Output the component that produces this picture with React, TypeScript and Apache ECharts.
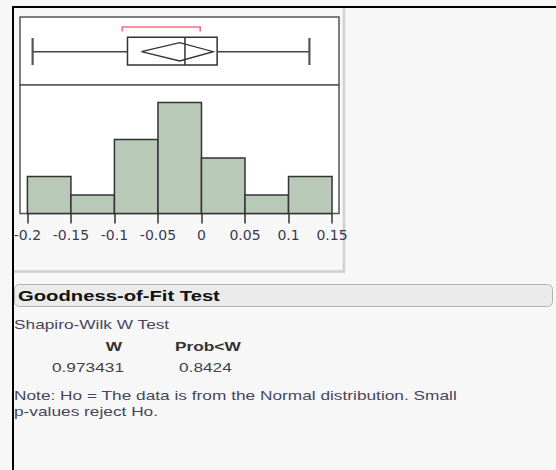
import React, { useEffect, useRef } from "react";
import * as echarts from "echarts";

// ---- data ----
const binEdges = [-0.2, -0.15, -0.1, -0.05, 0, 0.05, 0.1, 0.15];
const binCounts = [2, 1, 4, 6, 3, 1, 2];
const tickValues = [-0.2, -0.15, -0.1, -0.05, 0, 0.05, 0.1, 0.15];
const tickLabels = ["-0.2", "-0.15", "-0.1", "-0.05", "0", "0.05", "0.1", "0.15"];
// whisker low, q1, median, q3, whisker high
const boxValues = [-0.194, -0.085, -0.019, 0.018, 0.124];
// mean diamond: lower CI, mean, upper CI
const meanDiamond = [-0.069, -0.025, 0.0135];
// shortest half bracket
const shortestHalf = [-0.091, -0.0015];

const headerTitle = "Goodness-of-Fit Test";
const testName = "Shapiro-Wilk W Test";
const columnHeads = ["W", "Prob<W"];
const columnValues = ["0.973431", "0.8424"];
const noteLines = [
  "Note: Ho = The data is from the Normal distribution. Small",
  "p-values reject Ho.",
];

const FONT = "'Liberation Sans', Arial, sans-serif";
const SX = 1.33;

export default function App() {
  const ref = useRef<HTMLDivElement>(null);

  useEffect(() => {
    if (!ref.current) return;
    const chart = echarts.init(ref.current, undefined, { renderer: "svg" });

    const histData = binCounts.map((c, i) => [binEdges[i], binEdges[i + 1], c]);
    const boxData = [[...boxValues, ...meanDiamond, ...shortestHalf]];

    const xMin = -0.2085;
    const xMax = 0.158;

    const txt = (
      text: string, x: number, y: number, font: string, fill: string,
      align: string = "left", sx: number = SX
    ) => ({
      type: "text", x, y, scaleX: sx, scaleY: 1,
      style: { text, font, fill, align, verticalAlign: "middle" },
    });

    const option: any = {
      animation: false,
      backgroundColor: "#f7f7f7",
      grid: [
        {
          left: 20, top: 17, width: 319, height: 68,
          show: true, backgroundColor: "#fff", borderColor: "#555", borderWidth: 1.5,
        },
        {
          left: 20, top: 85, width: 319, height: 128.5,
          show: true, backgroundColor: "#fff", borderColor: "#555", borderWidth: 1.5,
        },
      ],
      xAxis: [
        {
          type: "value", gridIndex: 0, min: xMin, max: xMax, show: false,
        },
        {
          type: "value", gridIndex: 1, min: xMin, max: xMax,
          axisLine: { show: false },
          splitLine: { show: false },
          axisTick: {
            show: true, customValues: tickValues, length: 10, inside: false,
            lineStyle: { color: "#333", width: 1.5 },
          },
          axisLabel: {
            customValues: tickValues,
            formatter: (v: number) => {
              const i = tickValues.findIndex((t) => Math.abs(t - v) < 1e-9);
              return i >= 0 ? tickLabels[i] : "";
            },
            fontSize: 14, fontFamily: "'DejaVu Sans', sans-serif", color: "#3a3a4e", margin: 14,
            hideOverlap: false,
          },
        },
      ],
      yAxis: [
        { type: "value", gridIndex: 0, min: 0, max: 68, inverse: true, show: false },
        { type: "value", gridIndex: 1, min: 0, max: 6.95, show: false },
      ],
      series: [
        {
          type: "custom",
          xAxisIndex: 1, yAxisIndex: 1,
          data: histData,
          encode: { x: [0, 1], y: 2 },
          renderItem: (params: any, api: any) => {
            const p0 = api.coord([api.value(0), api.value(2)]);
            const p1 = api.coord([api.value(1), 0]);
            return {
              type: "rect",
              shape: { x: p0[0], y: p0[1], width: p1[0] - p0[0], height: p1[1] - p0[1] },
              style: { fill: "#b8c9b7", stroke: "#333", lineWidth: 1.5 },
            };
          },
        },
        {
          type: "custom",
          xAxisIndex: 0, yAxisIndex: 0,
          data: boxData,
          encode: { x: [0, 4] },
          renderItem: (params: any, api: any) => {
            const v = (i: number) => api.value(i);
            const c = (x: number, y: number) => api.coord([x, y]);
            const wl = v(0), q1 = v(1), med = v(2), q3 = v(3), wh = v(4);
            const ciL = v(5), mean = v(6), ciH = v(7);
            const shL = v(8), shH = v(9);
            const mid = 34.7;
            const line = (a: number[], b: number[], stroke: string, lw: number) => ({
              type: "line",
              shape: { x1: a[0], y1: a[1], x2: b[0], y2: b[1] },
              style: { stroke, lineWidth: lw },
            });
            const bTL = c(q1, 20.3);
            const bBR = c(q3, 48);
            return {
              type: "group",
              children: [
                line(c(wl, mid), c(q1, mid), "#444", 1.5),
                line(c(q3, mid), c(wh, mid), "#444", 1.5),
                line(c(wl, 21), c(wl, 48), "#555", 2.2),
                line(c(wh, 21), c(wh, 48), "#555", 2.2),
                {
                  type: "rect",
                  shape: { x: bTL[0], y: bTL[1], width: bBR[0] - bTL[0], height: bBR[1] - bTL[1] },
                  style: { fill: "none", stroke: "#333", lineWidth: 1.5 },
                },
                line(c(med, 20.3), c(med, 48), "#333", 1.5),
                {
                  type: "polygon",
                  shape: {
                    points: [c(ciL, mid), c(mean, 25.7), c(ciH, mid), c(mean, 44)],
                  },
                  style: { fill: "none", stroke: "#333", lineWidth: 1.3 },
                },
                {
                  type: "polyline",
                  shape: {
                    points: [c(shL, 14.5), c(shL, 10), c(shH, 10), c(shH, 14.5)],
                  },
                  style: { fill: "none", stroke: "#f0707e", lineWidth: 1.6 },
                },
              ],
            };
          },
        },
      ],
      graphic: [
        // outer black frame
        { type: "line", shape: { x1: 12, y1: 7, x2: 556, y2: 7 }, style: { stroke: "#000", lineWidth: 2 }, z: 10 },
        { type: "line", shape: { x1: 13, y1: 6, x2: 13, y2: 470 }, style: { stroke: "#000", lineWidth: 2 }, z: 10 },
        // panel borders
        { type: "line", shape: { x1: 344, y1: 8, x2: 344, y2: 272.5 }, style: { stroke: "#cfcfcf", lineWidth: 2.5 } },
        { type: "line", shape: { x1: 14, y1: 271.5, x2: 345, y2: 271.5 }, style: { stroke: "#cfcfcf", lineWidth: 2.5 } },
        // header
        {
          type: "rect",
          shape: { x: 14.5, y: 284.5, width: 538, height: 22, r: 5 },
          style: { fill: "#ebebeb", stroke: "#b3b3b3", lineWidth: 1 },
        },
        txt(headerTitle, 18, 296, `bold 15px ${FONT}`, "#111", "left", 1.35),
        txt(testName, 14, 324, `13px ${FONT}`, "#46465a"),
        txt(columnHeads[0], 122, 346, `bold 13px ${FONT}`, "#333", "right"),
        txt(columnHeads[1], 175, 346, `bold 13px ${FONT}`, "#333"),
        txt(columnValues[0], 124, 367, `13px ${FONT}`, "#444", "right"),
        txt(columnValues[1], 179, 367, `13px ${FONT}`, "#444"),
        txt(noteLines[0], 14, 395, `13px ${FONT}`, "#46465a"),
        txt(noteLines[1], 14, 411, `13px ${FONT}`, "#46465a"),
      ],
    };

    chart.setOption(option);
    return () => chart.dispose();
  }, []);

  return (
    <div
      ref={ref}
      style={{ position: "fixed", left: 0, top: 0, width: 556, height: 470 }}
    />
  );
}
